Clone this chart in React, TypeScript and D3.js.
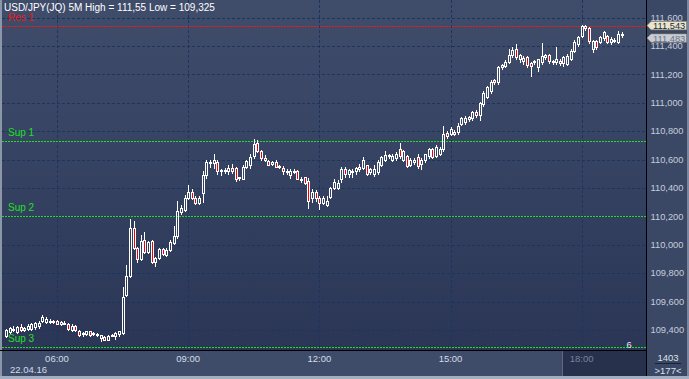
import React from 'react';
import * as d3 from 'd3';

const W = 689;
const H = 379;

const symbolName = 'USD/JPY(JQ) 5M';
const startMinutes = 4 * 60 + 50; // first bar 04:50
const barMinutes = 5;
const dateLabel = '22.04.16';
const barsTotalLabel = '1403';
const barsVisibleLabel = '>177<';
const cornerMark = '6';

const opens = [
  109.357, 109.385, 109.405, 109.385, 109.420, 109.400, 109.410, 109.405, 109.420, 109.425,
  109.463, 109.458, 109.455, 109.458, 109.463, 109.442, 109.452, 109.442, 109.400, 109.428,
  109.392, 109.370, 109.371, 109.392, 109.375, 109.372, 109.343, 109.350, 109.333, 109.362,
  109.357, 109.370, 109.380, 109.647, 109.780, 110.120, 109.979, 109.901, 110.035, 109.950,
  110.028, 109.880, 109.908, 109.972, 109.930, 109.965, 110.014, 110.064, 110.233, 110.247,
  110.332, 110.375, 110.332, 110.297, 110.367, 110.488, 110.580, 110.575, 110.580, 110.520,
  110.523, 110.516, 110.544, 110.544, 110.470, 110.466, 110.551, 110.560, 110.622, 110.720,
  110.657, 110.608, 110.587, 110.570, 110.580, 110.551, 110.544, 110.516, 110.488, 110.516,
  110.516, 110.466, 110.474, 110.452, 110.332, 110.375, 110.332, 110.297, 110.283, 110.339,
  110.403, 110.403, 110.460, 110.530, 110.495, 110.515, 110.516, 110.530, 110.544, 110.560,
  110.509, 110.495, 110.509, 110.565, 110.600, 110.622, 110.600, 110.608, 110.671, 110.600,
  110.622, 110.565, 110.580, 110.615, 110.572, 110.594, 110.622, 110.671, 110.622, 110.636,
  110.671, 110.785, 110.777, 110.792, 110.792, 110.848, 110.862, 110.883, 110.890, 110.933,
  110.912, 110.989, 111.039, 111.081, 111.159, 111.145, 111.251, 111.258, 111.286, 111.336,
  111.378, 111.307, 111.293, 111.322, 111.279, 111.286, 111.251, 111.286, 111.322, 111.336,
  111.290, 111.286, 111.293, 111.279, 111.272, 111.307, 111.364, 111.413, 111.470, 111.541,
  111.527, 111.378, 111.435, 111.428, 111.456, 111.470, 111.428, 111.442, 111.428, 111.484,
];

const highs = [
  109.405, 109.420, 109.425, 109.430, 109.440, 109.420, 109.440, 109.450, 109.455, 109.460,
  109.505, 109.490, 109.480, 109.470, 109.470, 109.465, 109.460, 109.450, 109.440, 109.435,
  109.400, 109.385, 109.395, 109.395, 109.385, 109.380, 109.368, 109.355, 109.362, 109.370,
  109.385, 109.395, 109.703, 109.858, 110.184, 110.170, 109.985, 110.071, 110.092, 110.030,
  110.035, 109.915, 109.975, 109.980, 109.975, 110.035, 110.134, 110.311, 110.280, 110.350,
  110.424, 110.390, 110.340, 110.345, 110.516, 110.600, 110.600, 110.636, 110.600, 110.530,
  110.540, 110.560, 110.570, 110.550, 110.480, 110.560, 110.600, 110.636, 110.742, 110.735,
  110.665, 110.630, 110.600, 110.590, 110.600, 110.565, 110.555, 110.530, 110.530, 110.530,
  110.525, 110.475, 110.480, 110.470, 110.390, 110.385, 110.340, 110.345, 110.345, 110.410,
  110.460, 110.455, 110.545, 110.545, 110.530, 110.530, 110.550, 110.570, 110.620, 110.565,
  110.540, 110.560, 110.600, 110.625, 110.660, 110.640, 110.640, 110.650, 110.714, 110.670,
  110.630, 110.610, 110.610, 110.640, 110.610, 110.640, 110.680, 110.680, 110.700, 110.690,
  110.834, 110.800, 110.830, 110.810, 110.860, 110.900, 110.910, 110.910, 110.940, 110.950,
  111.005, 111.080, 111.120, 111.160, 111.170, 111.260, 111.275, 111.300, 111.378, 111.390,
  111.413, 111.345, 111.330, 111.330, 111.285, 111.300, 111.310, 111.420, 111.345, 111.345,
  111.300, 111.390, 111.310, 111.330, 111.340, 111.375, 111.440, 111.470, 111.550, 111.545,
  111.535, 111.440, 111.445, 111.470, 111.505, 111.480, 111.460, 111.455, 111.505, 111.500,
];

const lows = [
  109.350, 109.378, 109.395, 109.380, 109.395, 109.395, 109.400, 109.400, 109.410, 109.415,
  109.455, 109.450, 109.450, 109.450, 109.440, 109.435, 109.445, 109.400, 109.390, 109.395,
  109.355, 109.360, 109.365, 109.355, 109.365, 109.360, 109.325, 109.330, 109.330, 109.355,
  109.336, 109.360, 109.375, 109.640, 109.770, 109.970, 109.880, 109.895, 109.945, 109.940,
  109.870, 109.852, 109.900, 109.930, 109.920, 109.955, 110.005, 110.050, 110.220, 110.235,
  110.320, 110.320, 110.285, 110.285, 110.300, 110.470, 110.550, 110.540, 110.500, 110.490,
  110.505, 110.500, 110.505, 110.450, 110.455, 110.460, 110.540, 110.540, 110.610, 110.650,
  110.600, 110.590, 110.560, 110.560, 110.545, 110.540, 110.500, 110.500, 110.470, 110.505,
  110.460, 110.440, 110.430, 110.261, 110.300, 110.310, 110.255, 110.285, 110.270, 110.330,
  110.395, 110.395, 110.440, 110.480, 110.480, 110.480, 110.500, 110.520, 110.530, 110.490,
  110.500, 110.485, 110.500, 110.555, 110.590, 110.610, 110.590, 110.600, 110.610, 110.590,
  110.550, 110.555, 110.570, 110.540, 110.530, 110.585, 110.610, 110.610, 110.615, 110.630,
  110.660, 110.755, 110.770, 110.770, 110.780, 110.840, 110.850, 110.870, 110.880, 110.900,
  110.880, 110.980, 111.030, 111.070, 111.135, 111.135, 111.240, 111.250, 111.280, 111.320,
  111.310, 111.290, 111.270, 111.255, 111.187, 111.270, 111.220, 111.275, 111.310, 111.280,
  111.270, 111.270, 111.265, 111.260, 111.265, 111.300, 111.355, 111.400, 111.460, 111.510,
  111.420, 111.357, 111.380, 111.420, 111.445, 111.420, 111.415, 111.430, 111.420, 111.465,
];

const closes = [
  109.399, 109.413, 109.410, 109.420, 109.399, 109.415, 109.428, 109.442, 109.450, 109.452,
  109.490, 109.480, 109.462, 109.460, 109.442, 109.458, 109.448, 109.405, 109.428, 109.399,
  109.364, 109.378, 109.392, 109.364, 109.378, 109.370, 109.362, 109.333, 109.355, 109.365,
  109.378, 109.390, 109.633, 109.780, 110.120, 109.979, 109.901, 110.028, 109.950, 110.021,
  109.880, 109.908, 109.972, 109.936, 109.965, 110.021, 110.064, 110.240, 110.261, 110.332,
  110.375, 110.332, 110.297, 110.332, 110.488, 110.580, 110.585, 110.600, 110.516, 110.523,
  110.525, 110.544, 110.516, 110.460, 110.474, 110.551, 110.587, 110.615, 110.707, 110.657,
  110.608, 110.600, 110.565, 110.580, 110.551, 110.555, 110.516, 110.520, 110.516, 110.520,
  110.466, 110.460, 110.438, 110.311, 110.375, 110.332, 110.297, 110.332, 110.311, 110.403,
  110.445, 110.438, 110.530, 110.495, 110.523, 110.520, 110.537, 110.551, 110.600, 110.495,
  110.530, 110.530, 110.580, 110.615, 110.630, 110.630, 110.622, 110.636, 110.622, 110.657,
  110.558, 110.600, 110.600, 110.558, 110.600, 110.636, 110.671, 110.615, 110.685, 110.671,
  110.777, 110.763, 110.813, 110.777, 110.834, 110.890, 110.890, 110.897, 110.933, 110.912,
  110.996, 111.067, 111.110, 111.145, 111.145, 111.251, 111.265, 111.286, 111.336, 111.371,
  111.322, 111.336, 111.314, 111.265, 111.258, 111.293, 111.307, 111.329, 111.336, 111.293,
  111.295, 111.307, 111.279, 111.322, 111.329, 111.364, 111.427, 111.463, 111.541, 111.527,
  111.435, 111.435, 111.392, 111.463, 111.498, 111.428, 111.449, 111.442, 111.484, 111.483,
];

const priceTicks = [109.4, 109.6, 109.8, 110.0, 110.2, 110.4, 110.6, 110.8, 111.0, 111.2, 111.4, 111.6];
const timeTickMinutes = [360, 540, 720, 900, 1080];
const timeTickLabels = ['06:00', '09:00', '12:00', '15:00', '18:00'];

const levelNames = ['Res 1', 'Sup 1', 'Sup 2', 'Sup 3'];
const levelValues = [111.543, 110.728, 110.2, 109.28];
const levelColors = ['#f01818', '#1ee01e', '#1ee01e', '#1ee01e'];

const FONT = '"Liberation Sans", Arial, sans-serif';

export default function App() {
  const plotL = 2;
  const plotR = 646;
  const plotB = 350;
  const y = d3.scaleLinear().domain([109.4, 111.6]).range([330, 17.5]);
  const x = d3.scaleLinear().domain([360, 1080]).range([57, 581.7]);
  const fmt3 = (v: number) => v.toFixed(3).replace('.', ',');
  const highMax = d3.max(highs) as number;
  const lowMin = d3.min(lows) as number;
  const title = `${symbolName} High = ${String(highMax).replace('.', ',')} Low = ${String(lowMin).replace('.', ',')}`;
  const lastClose = closes[closes.length - 1];
  const res1 = levelValues[0];

  const candles = opens.map((o, i) => {
    const c = closes[i];
    const cx = Math.round(x(startMinutes + i * barMinutes));
    const yo = y(o), yc = y(c);
    let top = Math.round(Math.min(yo, yc));
    let bot = Math.round(Math.max(yo, yc));
    if (bot - top < 1) bot = top + 1;
    const yh = Math.round(y(highs[i]));
    const yl = Math.round(y(lows[i]));
    const down = c < o;
    return (
      <g key={i}>
        {yh < top && <line x1={cx + 0.5} x2={cx + 0.5} y1={yh} y2={top} stroke="#ffffff" strokeWidth={1} />}
        {yl > bot && <line x1={cx + 0.5} x2={cx + 0.5} y1={bot + 1} y2={yl + 1} stroke="#ffffff" strokeWidth={1} />}
        <rect x={cx - 0.5} y={top + 0.5} width={2} height={bot - top} fill={down ? '#f00000' : 'none'} stroke="#ffffff" strokeWidth={1} />
      </g>
    );
  });

  const arrowBox = (yc: number, label: string, fill: string, textColor: string) => {
    const t = yc - 4.2, b = yc + 4.2;
    const pts = `647,${yc} 651,${t} 686.5,${t} 686.5,${b} 651,${b}`;
    return (
      <g>
        <polygon points={pts} fill={fill} stroke="#8d8a72" strokeWidth={0.6} />
        <text x={653} y={yc + 3.4} fontSize={9.3} fill={textColor} fontFamily={FONT}>{label}</text>
      </g>
    );
  };

  return (
    <svg width={W} height={H} style={{ position: 'fixed', left: 0, top: 0, display: 'block' }}>
      <defs>
        <linearGradient id="plotBg" x1="0" y1="0" x2="0" y2="1">
          <stop offset="0" stopColor="#3f4d6b" />
          <stop offset="1" stopColor="#2b3657" />
        </linearGradient>
        <clipPath id="plotClip">
          <rect x={plotL} y={0} width={plotR - plotL} height={plotB} />
        </clipPath>
      </defs>
      <rect x={0} y={0} width={W} height={H} fill="#3a4765" />
      <rect x={plotL} y={0} width={plotR - plotL} height={plotB} fill="url(#plotBg)" />
      <rect x={0} y={0} width={2} height={H} fill="#8c96a9" />
      <rect x={687} y={0} width={2} height={H} fill="#7c879d" />

      {/* grid */}
      <g clipPath="url(#plotClip)">
        {priceTicks.map((p) => (
          <line key={p} x1={plotL} x2={plotR} y1={Math.round(y(p)) + 0.5} y2={Math.round(y(p)) + 0.5} stroke="#1c355f" strokeWidth={1} strokeDasharray="3,2" />
        ))}
        {timeTickMinutes.map((m) => (
          <line key={m} x1={Math.round(x(m)) + 0.5} x2={Math.round(x(m)) + 0.5} y1={0} y2={plotB} stroke="#1c355f" strokeWidth={1} strokeDasharray="3,2" />
        ))}

        {/* support / resistance */}
        {levelValues.map((v, i) => {
          const ly = Math.round(y(v)) + 0.5;
          return (
            <g key={levelNames[i]}>
              <line x1={plotL} x2={plotR} y1={ly} y2={ly} stroke={levelColors[i]} strokeWidth={1} strokeDasharray="2,1" />
              <text x={8} y={ly - 6} fontSize={10} fill={levelColors[i]} fontFamily={FONT}>{levelNames[i]}</text>
            </g>
          );
        })}

        {candles}

        <text x={4} y={10.5} fontSize={10} fill="#ffffff" fontFamily={FONT}>{title}</text>
        <text x={626.5} y={348} fontSize={9.3} fill="#e8ecf4" fontFamily={FONT}>{cornerMark}</text>
      </g>

      {/* frame lines */}
      <line x1={646.5} x2={646.5} y1={0} y2={H} stroke="#000000" strokeWidth={1} />
      <line x1={0} x2={646} y1={350.5} y2={350.5} stroke="#000000" strokeWidth={1} />

      {/* bottom axis */}
      <rect x={2} y={351} width={644} height={25} fill="#3f4c69" />
      <rect x={563} y={351} width={83} height={25} fill="#28314c" />
      <line x1={562.5} x2={562.5} y1={351} y2={376} stroke="#5d6882" strokeWidth={1} />
      <rect x={0} y={376} width={W} height={3} fill="#a3adc0" />
      {timeTickMinutes.map((m, i) => (
        <text key={m} x={x(m)} y={362} fontSize={9.5} textAnchor="middle" fill={m >= 1080 ? '#76829b' : '#d4dbea'} fontFamily={FONT}>{timeTickLabels[i]}</text>
      ))}
      <text x={10} y={373} fontSize={9.5} fill="#d4dbea" fontFamily={FONT}>{dateLabel}</text>

      {/* right axis */}
      {priceTicks.map((p) => (
        <text key={p} x={650.5} y={y(p) + 3.3} fontSize={9.3} fill="#c7cedc" fontFamily={FONT}>{fmt3(p)}</text>
      ))}
      {arrowBox(y(lastClose) + 4, fmt3(lastClose), '#c9ccd2', '#6a7389')}
      {arrowBox(y(res1), fmt3(res1), '#e9e6cc', '#1d2740')}

      {/* bars counter box */}
      <text x={668} y={361} fontSize={9.5} textAnchor="middle" fill="#dde2ec" fontFamily={FONT}>{barsTotalLabel}</text>
      <line x1={655} x2={681} y1={363.5} y2={363.5} stroke="#1b2235" strokeWidth={1} />
      <text x={668} y={373.5} fontSize={9.5} textAnchor="middle" fill="#dde2ec" fontFamily={FONT}>{barsVisibleLabel}</text>
    </svg>
  );
}
